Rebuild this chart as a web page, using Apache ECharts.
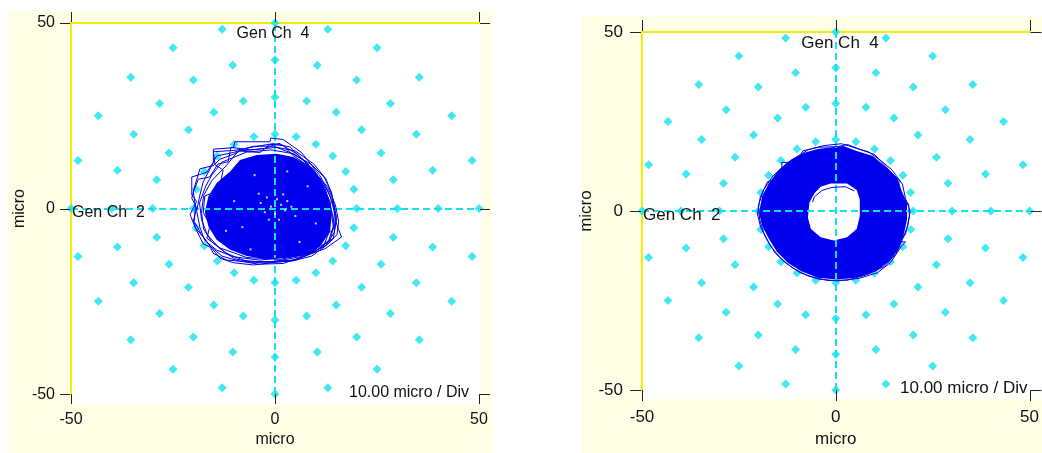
<!DOCTYPE html>
<html>
<head>
<meta charset="utf-8">
<script src="https://cdn.jsdelivr.net/npm/echarts@6/dist/echarts.min.js"></script>
<style>html,body{margin:0;padding:0;background:#fff}#c{width:1042px;height:453px}</style>
</head>
<body>
<div id="c"></div>
<script>
// ---------------- data ----------------
const axisTicks = [-50, 0, 50];
const ringRadii = [20, 30, 40, 50];
const ringAnglesDeg = [0,15,30,45,60,75,90,105,120,135,150,165,180,195,210,225,240,255,270,285,300,315,330,345];
const channelLabels = ['Gen Ch  4', 'Gen Ch  2'];
const scaleLabel = '10.00 micro / Div';
const unitLabel = 'micro';

// left plot: dense core of the orbit (outline of the solid region)
const leftCore = [[-11.0,10.0],[-8.6,13.1],[-4.5,14.4],[0.4,14.8],[4.5,13.9],[8.6,11.3],[11.4,7.4],[13.1,3.0],[13.9,-1.8],[13.5,-6.2],[11.4,-9.7],[8.6,-12.4],[3.7,-13.2],[-2.0,-13.7],[-6.9,-12.8],[-11.0,-11.1],[-14.3,-8.4],[-16.3,-4.9],[-17.2,-1.0],[-16.3,3.4],[-14.3,6.9]];
// left plot: loose orbit loops around the core
const leftLoop1 = [[-9.8,18.0],[-1.2,18.0],[-1.1,19.0],[2.0,18.6],[6.5,15.1],[11.0,8.9],[13.1,4.6],[14.3,0.2],[15.1,-4.2],[16.3,-7.7],[12.3,-10.8],[4.5,-13.9],[-5.3,-15.2],[-10.2,-14.6],[-13.5,-13.4],[-15.1,-11.2],[-17.6,-7.7],[-19.6,-5.1],[-20.8,-1.6],[-19.2,1.9],[-20.4,3.7],[-20.4,8.5],[-16.7,9.8],[-15.1,12.5],[-15.1,16.0],[-10.2,16.4],[-9.8,18.0]];
const leftLoop2 = [[-14.3,14.2],[-10.2,15.1],[-5.3,16.8],[-0.4,16.8],[3.7,15.1],[7.8,12.5],[11.0,7.2],[13.5,1.9],[14.3,-5.1],[13.5,-8.6],[9.4,-11.2],[2.9,-13.0],[-3.7,-13.9],[-10.2,-13.0],[-14.3,-11.2],[-17.2,-8.6],[-18.4,-5.1],[-19.2,-0.7],[-18.4,3.7],[-17.6,7.2],[-15.9,10.7],[-14.3,14.2]];
const leftLoop3 = [[-18.4,10.7],[-15.1,11.6],[-13.5,13.3],[-10.2,14.6],[-8.6,15.5],[-3.7,15.1],[-1.2,17.3],[2.0,17.0],[4.5,14.2],[9.4,10.7],[12.3,5.4],[13.9,-0.7],[14.7,-5.1],[13.1,-6.8],[11.8,-10.4],[6.1,-13.0],[-0.4,-14.3],[-6.9,-14.3],[-11.8,-13.9],[-15.1,-12.1],[-15.9,-10.4],[-17.6,-9.5],[-19.2,-6.0],[-20.0,-3.3],[-19.2,0.2],[-20.4,2.8],[-19.6,6.3],[-18.4,10.7]];
const leftLoop4 = [[-12,11.5],[-9,15.5],[-4,16],[0.5,16.5],[5,15.5],[9.5,12],[12.5,8],[14,3.5],[15,-2],[14.5,-6.5],[12.5,-10],[9,-12.8],[4,-14.2],[-2,-14.5],[-7.5,-14],[-12,-12],[-15.5,-9],[-17.5,-5.5],[-18,-1],[-17.5,3.5],[-15.5,7.5],[-12,11.5]];
const leftLoop5 = [[-15.1,15.3],[-14.7,11.8],[-12.7,10.4],[-13.5,6.1],[-15.1,4.3],[-17.2,3.4],[-17.6,-1.0],[-15.9,-4.5],[-16.7,-8.0],[-13.5,-10.6],[-6.9,-13.2],[1.2,-13.7],[9.4,-11.9],[14.3,-8.0],[15.1,-2.7],[13.9,2.5],[11.8,6.9],[7.8,12.2],[3.7,16.6],[-0.4,17.5],[-5.3,16.6],[-9.8,15.7],[-15.1,15.3]];
const leftLoop6 = [[-18.8,7.9],[-16.0,8.5],[-14.0,12.0],[-11.5,12.6],[-10.8,16.5],[-6.0,15.8],[-2.5,16.2],[1.0,17.6],[5.5,14.6],[9.8,9.8],[12.9,5.8],[14.8,1.0],[15.6,-3.5],[15.2,-7.0],[13.0,-9.6],[8.0,-12.5],[2.0,-14.8],[-4.0,-15.0],[-9.0,-14.1],[-13.0,-12.8],[-16.0,-10.0],[-18.0,-7.0],[-19.8,-3.5],[-19.5,0.5],[-20.0,4.5],[-18.8,7.9]];
const leftLoop7 = [[-13,12.5],[-7,15.2],[-1,15.8],[4.5,14.8],[9,11.8],[12,8.5],[13.8,4.5],[14.6,0],[14.4,-4.5],[13.2,-8.5],[10,-11.5],[5.5,-13.8],[0,-14.2],[-5,-14.6],[-10,-13.5],[-13.8,-10.5],[-16.6,-7],[-18,-3],[-18.5,1.5],[-17,6],[-15.5,9],[-13,12.5]];
// left plot: small gaps visible inside the dense core
const leftGaps = [[-2,3],[0.5,2.5],[1.5,1],[-1,0.5],[2.5,-0.5],[0,-1.5],[3,2],[-2.5,-1],[1,-3],[4,0.5],[-3.5,1.5],[2,3.8],[-1.5,-3],[5,-2],[-4,4],[-8,-5],[6,-9],[-10,2],[8,6],[-5,9],[10,-4],[-12,-6],[3,10],[-6,-11]];

// right plot: ring-shaped orbit (outer edge and inner hole)
const rightOuter = [[-8.1,16.3],[-4.7,17.3],[-0.9,17.8],[2.0,18.2],[5.4,16.8],[9.6,15.4],[12.9,12.3],[15.9,9.1],[17.1,5.4],[18.4,2.3],[18.4,-2.3],[17.5,-6.8],[16.3,-10.5],[13.8,-14.1],[10.4,-16.8],[5.4,-18.6],[0.3,-19.1],[-4.7,-18.6],[-8.9,-16.8],[-12.3,-14.5],[-15.2,-11.4],[-17.3,-7.7],[-19.0,-4.1],[-19.8,-0.5],[-19.0,4.1],[-17.3,7.7],[-14.8,11.4],[-11.4,14.5]];
const rightInner = [[-3.9,6.8],[-1.3,7.7],[2.9,7.7],[5.4,5.9],[6.2,3.2],[6.2,-1.4],[5.4,-5.0],[2.9,-7.3],[-0.5,-8.2],[-3.9,-7.3],[-6.4,-5.0],[-7.2,-1.8],[-6.8,2.3],[-5.5,5.0]];
const rightLoop1 = [[-8.5,16.8],[-4.5,17.8],[0.5,18.0],[3.0,18.6],[6.0,17.3],[10.0,15.8],[13.8,11.4],[16.3,8.6],[16.3,4.1],[18.8,2.0],[19.0,-1.5],[18.0,-6.5],[16.3,-8.6],[18.0,-8.6],[16.8,-10.0],[14.2,-14.3],[10.8,-17.2],[6.0,-18.8],[0.5,-19.5],[-4.5,-19.0],[-9.2,-17.2],[-12.8,-14.6],[-15.6,-11.8],[-17.8,-8.0],[-19.4,-4.5],[-20.2,-0.8],[-19.5,3.8],[-17.6,8.2],[-13.9,9.5],[-13.9,13.6],[-10.2,13.6],[-8.5,16.8]];
const rightLoop2 = [[-6.0,2.5],[-5.5,4.0],[-3.5,5.8],[-1.0,6.6],[2.5,6.8],[4.8,5.6]];
const rightLoop3 = [[-7,17.2],[-3,18.3],[1.5,18.8],[4.5,17.8],[8.5,16.5],[11.5,14.2],[14.5,11.5],[17.2,7.5],[18.0,3.5],[19.2,0],[18.6,-4.0],[17.2,-8.0],[15.5,-12.0],[12.5,-15.5],[8.0,-17.8],[3.0,-19.3],[-2.0,-19.4],[-7.0,-18.2],[-11.0,-16.0],[-14.2,-13.2],[-16.8,-9.8],[-18.6,-6.0],[-19.6,-2.5],[-20.0,1.5],[-18.6,6.0],[-16.2,9.8],[-12.8,13.2],[-10.0,15.2],[-7,17.2]];

// ---------------- styles ----------------
const FONT = 'Liberation Sans, Arial, sans-serif';
const BLUE = '#0000EE';
const CYAN = '#12E2EE';
const YELLOW = '#F2EE00';
const CREAM = '#FFFEE6';
const TICK = '#222';

const gridPoints = [];
ringRadii.forEach(r => ringAnglesDeg.forEach(a => {
  const t = a * Math.PI / 180;
  gridPoints.push([r * Math.cos(t), r * Math.sin(t)]);
}));

const chart = echarts.init(document.getElementById('c'), null, {renderer: 'canvas'});

function xAx(gi, pos, fs, margin, nameGap) {
  const bottom = pos === 'bottom';
  return {
    gridIndex: gi, type: 'value', position: pos, min: axisTicks[0], max: axisTicks[2], interval: axisTicks[2],
    axisLine: {show: !bottom, onZero: false, lineStyle: {color: YELLOW, width: 2}},
    axisTick: {show: false},
    axisLabel: {show: bottom, margin: margin, color: '#111', fontSize: fs, fontFamily: FONT},
    splitLine: {show: false},
    name: bottom ? unitLabel : '', nameLocation: 'middle', nameGap: nameGap,
    nameTextStyle: {color: '#111', fontSize: fs, fontFamily: FONT}
  };
}
function yAx(gi, pos, fs, margin, nameGap) {
  const left = pos === 'left';
  return {
    gridIndex: gi, type: 'value', position: pos, min: axisTicks[0], max: axisTicks[2], interval: axisTicks[2],
    axisLine: {show: left, onZero: false, lineStyle: {color: YELLOW, width: 2}},
    axisTick: {show: false},
    axisLabel: {show: left, margin: margin, color: '#111', fontSize: fs, fontFamily: FONT},
    splitLine: {show: false},
    name: left ? unitLabel : '', nameLocation: 'middle', nameGap: nameGap, nameRotate: 90,
    nameTextStyle: {color: '#111', fontSize: fs, fontFamily: FONT}
  };
}

// tick marks on all four sides, placed through the axis scales
function tickSeries(xi, yi, len) {
  return {type: 'custom', xAxisIndex: xi, yAxisIndex: yi, data: [[0, 0]], silent: true, clip: false, z: 20,
    renderItem: function (params, api) {
      const lo = axisTicks[0], hi = axisTicks[axisTicks.length - 1];
      const kids = [];
      const st = {stroke: TICK, lineWidth: 1};
      axisTicks.forEach(v => {
        const b = api.coord([v, lo]), t = api.coord([v, hi]);
        const bx = Math.round(b[0]) + 0.5;
        kids.push({type: 'line', shape: {x1: bx, y1: b[1], x2: bx, y2: b[1] + len}, style: st});
        kids.push({type: 'line', shape: {x1: bx, y1: t[1] - 1, x2: bx, y2: t[1] - 1 - len}, style: st});
        const l = api.coord([lo, v]), r = api.coord([hi, v]);
        const ly = Math.round(l[1]) + 0.5;
        kids.push({type: 'line', shape: {x1: l[0] - 1, y1: ly, x2: l[0] - 1 - len, y2: ly}, style: st});
        kids.push({type: 'line', shape: {x1: r[0] + 1, y1: ly, x2: r[0] + 1 + len, y2: ly}, style: st});
      });
      return {type: 'group', children: kids};
    }};
}

function loopSeries(data, xi, yi) {
  return {type: 'line', xAxisIndex: xi, yAxisIndex: yi, data: data, showSymbol: false, symbol: 'none',
    lineStyle: {color: BLUE, width: 1}, silent: true, z: 5, animation: false};
}
function crossSeries(xi, yi) {
  return {type: 'scatter', xAxisIndex: xi, yAxisIndex: yi, data: gridPoints, symbol: 'diamond', symbolSize: 9,
    itemStyle: {color: CYAN}, silent: true, z: 3,
    markLine: {silent: true, symbol: 'none', label: {show: false},
      lineStyle: {color: CYAN, type: [7, 4], width: 2},
      data: [{xAxis: 0}, {yAxis: 0}]}};
}

const option = {
  backgroundColor: '#fff',
  animation: false,
  grid: [
    {left: 71, top: 23, width: 408, height: 380, show: false, containLabel: false},
    {left: 642, top: 32, width: 397, height: 367, show: false, containLabel: false}
  ],
  xAxis: [xAx(0, 'bottom', 16, 17, 36), xAx(0, 'top', 16, 8, 0), xAx(1, 'bottom', 17, 19, 40), xAx(1, 'top', 17, 8, 0)],
  yAxis: [yAx(0, 'left', 16, 16, 40), yAx(0, 'right', 16, 8, 0), yAx(1, 'left', 17, 19, 44), yAx(1, 'right', 17, 8, 0)],
  graphic: [
    {type: 'rect', z: -10, silent: true, shape: {x: 7, y: 10, width: 486, height: 443}, style: {fill: CREAM}},
    {type: 'rect', z: -10, silent: true, shape: {x: 582, y: 16, width: 460, height: 437}, style: {fill: CREAM}},
    {type: 'rect', z: -9, silent: true, shape: {x: 72, y: 24, width: 409, height: 380}, style: {fill: '#fff'}},
    {type: 'rect', z: -9, silent: true, shape: {x: 643, y: 33, width: 399, height: 366}, style: {fill: '#fff'}},
    {type: 'text', z: 100, x: 273, y: 34, style: {text: channelLabels[0], fill: '#111', font: '16px ' + FONT, textAlign: 'center', textVerticalAlign: 'middle', verticalAlign: 'middle'}},
    {type: 'text', z: 100, x: 72, y: 213, style: {text: channelLabels[1], fill: '#111', font: '16px ' + FONT, textAlign: 'left', textVerticalAlign: 'middle', verticalAlign: 'middle'}},
    {type: 'text', z: 100, x: 349, y: 393, style: {text: scaleLabel, fill: '#111', font: '16px ' + FONT, textAlign: 'left', textVerticalAlign: 'middle', verticalAlign: 'middle'}},
    {type: 'text', z: 100, x: 840, y: 43, style: {text: channelLabels[0], fill: '#111', font: '17px ' + FONT, textAlign: 'center', textVerticalAlign: 'middle', verticalAlign: 'middle'}},
    {type: 'text', z: 100, x: 643, y: 215, style: {text: channelLabels[1], fill: '#111', font: '17px ' + FONT, textAlign: 'left', textVerticalAlign: 'middle', verticalAlign: 'middle'}},
    {type: 'text', z: 100, x: 900, y: 388, style: {text: scaleLabel, fill: '#111', font: '17px ' + FONT, textAlign: 'left', textVerticalAlign: 'middle', verticalAlign: 'middle'}}
  ],
  series: [
    crossSeries(0, 0),
    crossSeries(2, 2),
    {type: 'custom', xAxisIndex: 0, yAxisIndex: 0, data: [[0, 0]], silent: true, z: 4,
      renderItem: function (params, api) {
        const pts = leftCore.map(p => api.coord(p));
        return {type: 'polygon', shape: {points: pts}, style: {fill: BLUE}};
      }},
    loopSeries(leftLoop1, 0, 0), loopSeries(leftLoop2, 0, 0), loopSeries(leftLoop3, 0, 0), loopSeries(leftLoop4, 0, 0),
    loopSeries(leftLoop5, 0, 0), loopSeries(leftLoop6, 0, 0), loopSeries(leftLoop7, 0, 0),
    {type: 'scatter', xAxisIndex: 0, yAxisIndex: 0, data: leftGaps, symbol: 'rect', symbolSize: [2, 2],
      itemStyle: {color: '#fff'}, silent: true, z: 6},
    {type: 'custom', xAxisIndex: 2, yAxisIndex: 2, data: [[0, 0]], silent: true, z: 4,
      renderItem: function (params, api) {
        const o = rightOuter.map(p => api.coord(p));
        const i = rightInner.slice().reverse().map(p => api.coord(p));
        const seg = arr => 'M' + arr.map(q => q[0].toFixed(2) + ' ' + q[1].toFixed(2)).join(' L') + ' Z';
        return {type: 'path', shape: {pathData: seg(o) + ' ' + seg(i)}, style: {fill: BLUE}};
      }},
    loopSeries(rightLoop1, 2, 2), loopSeries(rightLoop2, 2, 2), loopSeries(rightLoop3, 2, 2),
    tickSeries(0, 0, 10),
    tickSeries(2, 2, 11)
  ]
};
chart.setOption(option);
</script>
</body>
</html>
